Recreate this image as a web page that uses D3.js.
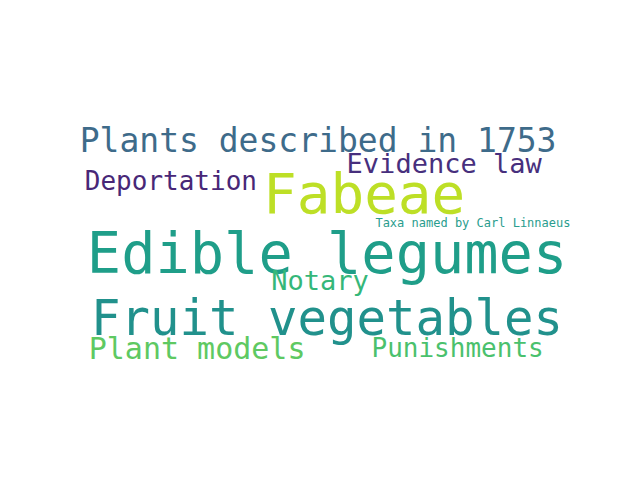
<!DOCTYPE html>
<html><head><meta charset="utf-8">
<script src="https://cdn.jsdelivr.net/npm/d3@7"></script>
<style>body{margin:0;background:#fff}</style></head>
<body><svg id="c" width="640" height="480"></svg>
<script>
// word cloud: words, weights (font size), layout centre in a 0..1 space, colours
const words   = ['Edible legumes','Fruit vegetables','Fabeae','Plants described in 1753','Evidence law','Deportation','Taxa named by Carl Linnaeus','Notary','Plant models','Punishments'];
const weights = [57, 49, 56, 33, 27, 26, 12, 27, 30, 26];
const cx      = [0.511, 0.511, 0.569, 0.497, 0.694, 0.267, 0.739, 0.500, 0.308, 0.715];
const cy      = [0.527, 0.664, 0.403, 0.292, 0.340, 0.377, 0.465, 0.585, 0.725, 0.725];
const colors  = ['#1f9e89','#21918c','#bddf26','#3e6b8a','#472f7d','#482777','#2a9d8e','#35b779','#5ec962','#4ac16d'];

const svg = d3.select('#c');
const x = d3.scaleLinear().domain([0,1]).range([0,640]);
const y = d3.scaleLinear().domain([0,1]).range([0,480]);
const size = d3.scaleIdentity();

svg.append('rect').attr('width',640).attr('height',480).attr('fill','#fff');
svg.selectAll('text').data(words).enter().append('text')
  .attr('x',(d,i)=>x(cx[i])).attr('y',(d,i)=>y(cy[i]))
  .attr('text-anchor','middle').attr('dominant-baseline','central')
  .attr('font-family','DejaVu Sans Mono, monospace')
  .attr('font-size',(d,i)=>size(weights[i]))
  .attr('fill',(d,i)=>colors[i])
  .text(d=>d);
</script></body></html>
